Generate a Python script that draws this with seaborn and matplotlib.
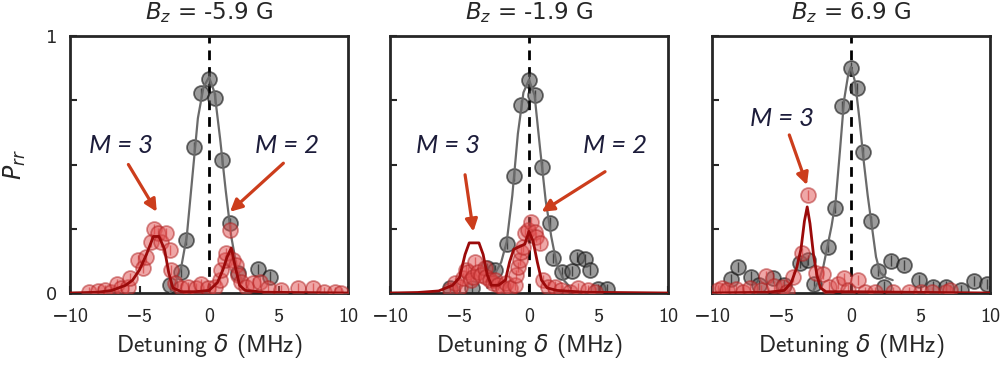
import numpy as np
import pandas as pd
import matplotlib
matplotlib.use("Agg")
import matplotlib.pyplot as plt
import seaborn as sns

# ---------------- data ----------------
titles = [r"$B_z$ = -5.9 G", r"$B_z$ = -1.9 G", r"$B_z$ = 6.9 G"]

# panel 1
black_x1 = [-2.8, -1.99, -1.63, -1.06, -0.58, 0.0, 0.46, 0.96, 1.49, 2.09, 3.53, 4.36]
black_y1 = [0.03, 0.083, 0.206, 0.567, 0.777, 0.833, 0.76, 0.518, 0.271, 0.077, 0.092, 0.064]
red_x1 = [-8.6, -8.0, -7.5, -7.03, -6.6, -6.3, -5.83, -5.7, -5.1, -4.75, -4.5, -4.2, -3.96, -3.67,
          -3.43, -3.07, -2.83, -2.71, -2.47, -2.0, -1.51, -0.91, -0.55, -0.07, 0.41, 0.77, 0.89,
          1.13, 1.25, 1.49, 1.73, 1.97, 2.09, 2.33, 2.69, 3.17, 3.65, 4.24, 5.2, 6.4, 7.48, 8.3,
          9.04, 9.5]
red_y1 = [0.004, 0.006, 0.01, 0.005, 0.035, 0.018, 0.025, 0.057, 0.128, 0.096, 0.141, 0.2, 0.248,
          0.232, 0.2, 0.232, 0.167, 0.09, 0.038, 0.018, 0.022, 0.018, 0.035, 0.018, 0.025, 0.051,
          0.09, 0.128, 0.154, 0.245, 0.128, 0.109, 0.07, 0.044, 0.025, 0.038, 0.044, 0.018, 0.012,
          0.018, 0.018, 0.005, 0.005, 0.0]
bfit_x1 = [-2.8, -2.4, -2.0, -1.6, -1.2, -0.8, -0.4, 0.0, 0.4, 0.8, 1.2, 1.6, 2.0, 2.4]
bfit_y1 = [0.0, 0.04, 0.1, 0.22, 0.45, 0.68, 0.8, 0.84, 0.78, 0.6, 0.4, 0.22, 0.1, 0.04]
rfit_x1 = [-10, -8, -7, -6, -5.5, -5, -4.5, -4, -3.6, -3.2, -2.9, -2.6, -2, -1, 0, 0.6, 1.0, 1.3,
           1.6, 1.9, 2.2, 2.6, 4, 10]
rfit_y1 = [0, 0.003, 0.01, 0.03, 0.05, 0.09, 0.15, 0.22, 0.22, 0.17, 0.08, 0.02, 0.005, 0.005,
           0.01, 0.04, 0.09, 0.14, 0.175, 0.1, 0.03, 0.01, 0.003, 0]

# panel 2
black_x2 = [-5.68, -4.12, -3.04, -2.45, -1.6, -1.06, -0.58, 0.0, 0.43, 0.96, 1.51, 1.75, 2.35,
            3.07, 3.43, 4.03, 4.39, 4.99, 5.59]
black_y2 = [0.018, 0.018, 0.096, 0.09, 0.19, 0.456, 0.731, 0.829, 0.77, 0.492, 0.274, 0.135,
            0.083, 0.087, 0.141, 0.131, 0.09, 0.014, 0.014]
red_x2 = [-5.71, -5.35, -4.99, -4.75, -4.51, -4.39, -4.15, -4.03, -3.86, -3.67, -3.43, -3.19,
          -3.07, -2.83, -2.59, -2.47, -2.23, -1.87, -1.63, -1.39, -1.03, -0.91, -0.79, -0.67,
          -0.55, -0.43, -0.31, -0.07, 0.17, 0.41, 0.53, 0.77, 1.01, 1.37, 1.85, 2.33, 2.93, 3.53,
          4.24, 4.73]
red_y2 = [0.012, 0.038, 0.025, 0.057, 0.09, 0.083, 0.051, 0.064, 0.122, 0.083, 0.07, 0.096,
          0.064, 0.051, 0.038, 0.051, 0.031, 0.018, 0.038, 0.018, 0.031, 0.07, 0.102, 0.128,
          0.161, 0.18, 0.232, 0.245, 0.277, 0.239, 0.219, 0.193, 0.051, 0.025, 0.025, 0.012,
          0.005, 0.018, 0.012, 0.005]
bfit_x2 = [-3.0, -2.5, -2.0, -1.6, -1.2, -0.8, -0.4, 0.0, 0.4, 0.8, 1.2, 1.6, 2.0, 2.5, 3.0]
bfit_y2 = [0.02, 0.07, 0.12, 0.2, 0.38, 0.62, 0.78, 0.83, 0.77, 0.56, 0.36, 0.22, 0.11, 0.05, 0.02]
rfit_x2 = [-10, -8, -6.5, -5.5, -5, -4.6, -4.3, -3.6, -3.3, -3.0, -2.7, -2.2, -1.7, -1.4, -1.1,
           -0.7, -0.3, 0.0, 0.3, 0.6, 0.9, 1.3, 2, 4, 10]
rfit_y2 = [0, 0.002, 0.008, 0.03, 0.06, 0.15, 0.195, 0.195, 0.15, 0.07, 0.03, 0.03, 0.05, 0.12,
           0.17, 0.18, 0.19, 0.24, 0.2, 0.12, 0.05, 0.02, 0.01, 0.003, 0]

# panel 3
black_x3 = [-8.63, -8.15, -7.19, -6.6, -5.63, -4.8, -3.65, -3.12, -2.64, -1.68, -1.15, -0.65,
            0.0, 0.41, 0.84, 1.44, 1.92, 2.4, 2.88, 3.83, 4.91, 5.88, 6.83, 7.91, 8.87, 9.78]
black_y3 = [0.054, 0.1, 0.064, 0.03, 0.06, 0.03, 0.118, 0.128, 0.034, 0.18, 0.33, 0.728, 0.877,
            0.796, 0.55, 0.281, 0.087, 0.025, 0.126, 0.109, 0.051, 0.025, 0.025, 0.012, 0.047,
            0.035]
red_x3 = [-9.6, -9.3, -8.9, -8.3, -7.8, -7.3, -6.5, -6.12, -5.52, -4.91, -4.6, -4.2, -3.55,
          -3.12, -2.52, -2.04, -1.56, -0.96, -0.48, -0.2, 0.48, 1.0, 1.7, 3.0, 4.2, 5.0, 5.8,
          6.8, 7.1]
red_y3 = [0.01, 0.02, 0.01, 0.015, 0.005, 0.02, 0.01, 0.066, 0.027, 0.025, 0.005, 0.064, 0.157,
          0.381, 0.077, 0.073, 0.025, 0.035, 0.057, 0.01, 0.051, 0.005, 0.002, 0.003, 0.003,
          0.003, 0.002, 0.005, 0.01]
bfit_x3 = [-2.7, -2.3, -2.0, -1.7, -1.4, -1.1, -0.8, -0.5, -0.2, 0.0, 0.3, 0.6, 0.9, 1.2, 1.5,
           1.8, 2.1, 2.5, 3.0]
bfit_y3 = [0.01, 0.05, 0.1, 0.18, 0.26, 0.36, 0.55, 0.75, 0.85, 0.88, 0.82, 0.68, 0.52, 0.38,
           0.26, 0.14, 0.08, 0.06, 0.05]
rfit_x3 = [-10, -6, -4.8, -4.3, -3.9, -3.6, -3.35, -3.15, -2.95, -2.7, -2.45, -2.2, -1.8, 0, 10]
rfit_y3 = [0.0, 0.003, 0.01, 0.04, 0.1, 0.17, 0.28, 0.335, 0.27, 0.15, 0.07, 0.02, 0.005, 0.005, 0]

# annotations: (label, text x, text y, arrow tail x, tail y, arrow head x, head y)
annos1 = [("M = 3", -6.3, 0.572, -5.8, 0.50, -3.76, 0.316),
          ("M = 2", 5.6, 0.572, 5.35, 0.505, 1.51, 0.316)]
annos2 = [("M = 3", -5.8, 0.572, -4.6, 0.46, -4.0, 0.239),
          ("M = 2", 6.2, 0.572, 5.47, 0.472, 0.91, 0.316)]
annos3 = [("M = 3", -5.0, 0.68, -4.44, 0.615, -3.17, 0.42)]

xticks = [-10, -5, 0, 5, 10]
xticklabels = ["\u221210", "\u22125", "0", "5", "10"]
yticks = [0, 0.25, 0.5, 0.75, 1]

panels = [
    (black_x1, black_y1, red_x1, red_y1, bfit_x1, bfit_y1, rfit_x1, rfit_y1, annos1),
    (black_x2, black_y2, red_x2, red_y2, bfit_x2, bfit_y2, rfit_x2, rfit_y2, annos2),
    (black_x3, black_y3, red_x3, red_y3, bfit_x3, bfit_y3, rfit_x3, rfit_y3, annos3),
]

# ---------------- style ----------------
sns.set_style("ticks")
plt.rcParams["font.family"] = ["cmss10", "DejaVu Sans"]
plt.rcParams["mathtext.fontset"] = "dejavusans"
plt.rcParams["axes.unicode_minus"] = True

fig = plt.figure(figsize=(10.02, 3.69), dpi=100)
lefts = [70 / 1002, 390 / 1002, 712 / 1002]
W = 278 / 1002
B = 1 - 293 / 369
H = 257 / 369

arrow_col = "#cc3d1c"
for i, (bx, by, rx, ry, fbx, fby, frx, fry, annos) in enumerate(panels):
    ax = fig.add_axes([lefts[i], B, W, H])
    ax.axvline(0, color="black", lw=2, ls=(0, (3.5, 2.5)), zorder=1)

    sns.lineplot(x=fbx, y=fby, ax=ax, color="#6a6a6a", lw=1.6, sort=False, zorder=3)
    sns.lineplot(x=frx, y=fry, ax=ax, color="#9b0a0a", lw=2.0, sort=False, zorder=5)

    ax.errorbar(bx, by, yerr=0.02, fmt="none", ecolor="#222222", elinewidth=1, zorder=2)
    sns.scatterplot(x=bx, y=by, ax=ax, s=115, color="#5a5a5a", alpha=0.6,
                    edgecolor="#111111", linewidth=1.3, zorder=2)
    ax.errorbar(rx, ry, yerr=0.02, fmt="none", ecolor="#c83030", elinewidth=1, alpha=0.7, zorder=4)
    sns.scatterplot(x=rx, y=ry, ax=ax, s=115, color="#e05050", alpha=0.5,
                    edgecolor="#b02020", linewidth=1.3, zorder=4)

    ax.set_xlim(-10, 10)
    ax.set_ylim(0, 1)
    ax.set_xticks(xticks)
    ax.set_xticklabels(xticklabels, fontsize=14.5)
    ax.set_yticks(yticks)
    if i == 0:
        ax.set_yticklabels(["0", "", "", "", "1"], fontsize=13, family="DejaVu Sans")
        ax.set_ylabel(r"$P_{rr}$", fontsize=17, labelpad=13)
    else:
        ax.set_yticklabels([])
    ax.tick_params(direction="in", length=5, width=1.5)
    ax.tick_params(axis="x", pad=11)
    ax.tick_params(axis="y", pad=9)
    for sp in ax.spines.values():
        sp.set_linewidth(2)
        sp.set_visible(True)
    ax.set_xlabel(r"Detuning $\delta$ (MHz)", fontsize=17, labelpad=4)
    ax.set_title(titles[i], fontsize=16.5, family="DejaVu Sans", pad=12)

    for lab, tx, ty, ax0, ay0, hx, hy in annos:
        ax.annotate("", xy=(hx, hy), xytext=(ax0, ay0),
                    arrowprops=dict(arrowstyle="-|>", color=arrow_col, lw=2.3,
                                    mutation_scale=18, shrinkA=0, shrinkB=0), zorder=6)
        ax.text(tx, ty, lab, ha="center", va="center", fontsize=18.5, style="italic",
                family="Lato", color="#1c1c3a", zorder=7)

fig.savefig("out.png", dpi=100)
